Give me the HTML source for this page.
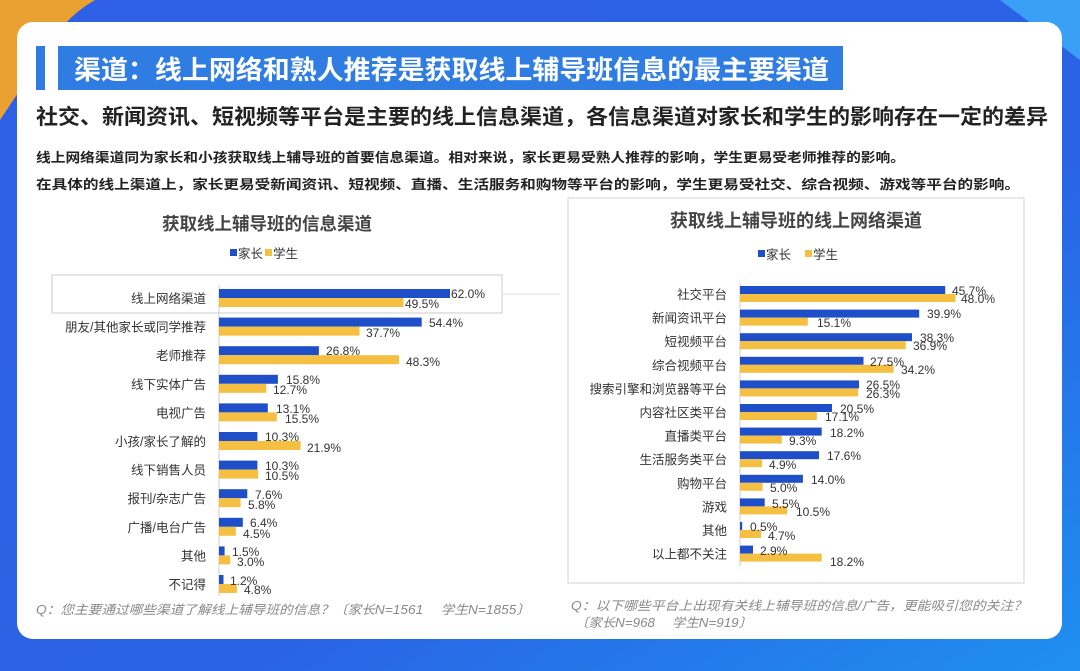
<!DOCTYPE html>
<html><head><meta charset="utf-8"><style>
html,body{margin:0;padding:0;width:1080px;height:671px;overflow:hidden;background:#2a5ee0}
svg{display:block}
text{font-family:"Liberation Sans","Noto Sans CJK SC",sans-serif}
.c{font-size:12.5px;fill:#333}
.v{font-size:12px;fill:#333}
</style></head><body>
<svg width="1080" height="671" viewBox="0 0 1080 671" xmlns="http://www.w3.org/2000/svg">
<defs>
<linearGradient id="bg" x1="0" y1="0" x2="1" y2="1">
<stop offset="0" stop-color="#2f5fe6"/><stop offset="0.6" stop-color="#2a62e4"/><stop offset="1" stop-color="#1f8ff0"/>
</linearGradient>
</defs>
<rect width="1080" height="671" fill="url(#bg)"/>
<path d="M0 0 L95 0 Q60 20 40 60 L0 120 Z" fill="#e9a232"/>
<path d="M1000 0 L1080 0 L1080 60 Z" fill="#3aa0f5"/>
<rect x="17" y="22" width="1045" height="617" rx="16" fill="#fff"/>
<rect x="36" y="46" width="9" height="44" fill="#2f7de3"/>
<rect x="58" y="46" width="785" height="44" fill="#2f7de3"/>
<text x="74" y="79" font-size="26" font-weight="bold" fill="#fff" textLength="755" lengthAdjust="spacingAndGlyphs">渠道：线上网络和熟人推荐是获取线上辅导班信息的最主要渠道</text>
<text x="36" y="124" font-size="21" font-weight="bold" fill="#222" textLength="1012" lengthAdjust="spacingAndGlyphs">社交、新闻资讯、短视频等平台是主要的线上信息渠道，各信息渠道对家长和学生的影响存在一定的差异</text>
<text x="36" y="162" font-size="13" font-weight="bold" fill="#222" textLength="869" lengthAdjust="spacingAndGlyphs">线上网络渠道同为家长和小孩获取线上辅导班的首要信息渠道。相对来说，家长更易受熟人推荐的影响，学生更易受老师推荐的影响。</text>
<text x="36" y="189" font-size="13" font-weight="bold" fill="#222" textLength="984" lengthAdjust="spacingAndGlyphs">在具体的线上渠道上，家长更易受新闻资讯、短视频、直播、生活服务和购物等平台的影响，学生更易受社交、综合视频、游戏等平台的影响。</text>

<!-- Left chart -->
<text x="267" y="230" font-size="17.5" font-weight="bold" fill="#444" text-anchor="middle">获取线上辅导班的信息渠道</text>
<rect x="230" y="249" width="7" height="7" fill="#1f4fc8"/><text x="238" y="258" font-size="12.5" fill="#333">家长</text>
<rect x="265" y="249" width="7" height="7" fill="#f5bf42"/><text x="273" y="258" font-size="12.5" fill="#333">学生</text>
<rect x="52" y="275" width="450" height="38" fill="none" stroke="#d0d4da" stroke-width="1.2"/>
<line x1="502" y1="294" x2="560" y2="294" stroke="#ddd"/>
<line x1="219" y1="285" x2="219" y2="596" stroke="#ccc"/>
<g>
<rect x="219" y="289" width="231" height="9" fill="#1f4fc8"/><rect x="219" y="298" width="184.4" height="9" fill="#f5bf42"/>
<text class="c" x="206" y="303" text-anchor="end">线上网络渠道</text><text class="v" x="451" y="298">62.0%</text><text class="v" x="405" y="308">49.5%</text>
<rect x="219" y="317.6" width="202.7" height="9" fill="#1f4fc8"/><rect x="219" y="326.6" width="140.5" height="9" fill="#f5bf42"/>
<text class="c" x="206" y="331.6" text-anchor="end">朋友/其他家长或同学推荐</text><text class="v" x="429" y="327">54.4%</text><text class="v" x="366" y="337">37.7%</text>
<rect x="219" y="346.2" width="99.9" height="9" fill="#1f4fc8"/><rect x="219" y="355.2" width="180" height="9" fill="#f5bf42"/>
<text class="c" x="206" y="360.2" text-anchor="end">老师推荐</text><text class="v" x="326" y="355">26.8%</text><text class="v" x="406" y="366">48.3%</text>
<rect x="219" y="374.8" width="58.9" height="9" fill="#1f4fc8"/><rect x="219" y="383.8" width="47.3" height="9" fill="#f5bf42"/>
<text class="c" x="206" y="388.8" text-anchor="end">线下实体广告</text><text class="v" x="286" y="384">15.8%</text><text class="v" x="273" y="394">12.7%</text>
<rect x="219" y="403.4" width="48.8" height="9" fill="#1f4fc8"/><rect x="219" y="412.4" width="57.8" height="9" fill="#f5bf42"/>
<text class="c" x="206" y="417.4" text-anchor="end">电视广告</text><text class="v" x="276" y="413">13.1%</text><text class="v" x="285" y="423">15.5%</text>
<rect x="219" y="432" width="38.4" height="9" fill="#1f4fc8"/><rect x="219" y="441" width="81.6" height="9" fill="#f5bf42"/>
<text class="c" x="206" y="446" text-anchor="end">小孩/家长了解的</text><text class="v" x="265" y="441">10.3%</text><text class="v" x="307" y="452">21.9%</text>
<rect x="219" y="460.6" width="38.4" height="9" fill="#1f4fc8"/><rect x="219" y="469.6" width="39.1" height="9" fill="#f5bf42"/>
<text class="c" x="206" y="474.6" text-anchor="end">线下销售人员</text><text class="v" x="265" y="470">10.3%</text><text class="v" x="265" y="480">10.5%</text>
<rect x="219" y="489.2" width="28.3" height="9" fill="#1f4fc8"/><rect x="219" y="498.2" width="21.6" height="9" fill="#f5bf42"/>
<text class="c" x="206" y="503.2" text-anchor="end">报刊/杂志广告</text><text class="v" x="255" y="499">7.6%</text><text class="v" x="248" y="509">5.8%</text>
<rect x="219" y="517.8" width="23.8" height="9" fill="#1f4fc8"/><rect x="219" y="526.8" width="16.8" height="9" fill="#f5bf42"/>
<text class="c" x="206" y="531.8" text-anchor="end">广播/电台广告</text><text class="v" x="250" y="527">6.4%</text><text class="v" x="243" y="538">4.5%</text>
<rect x="219" y="546.4" width="5.6" height="9" fill="#1f4fc8"/><rect x="219" y="555.4" width="11.2" height="9" fill="#f5bf42"/>
<text class="c" x="206" y="560.4" text-anchor="end">其他</text><text class="v" x="232" y="556">1.5%</text><text class="v" x="237" y="566">3.0%</text>
<rect x="219" y="575" width="4.5" height="9" fill="#1f4fc8"/><rect x="219" y="584" width="17.9" height="9" fill="#f5bf42"/>
<text class="c" x="206" y="589" text-anchor="end">不记得</text><text class="v" x="230" y="585">1.2%</text><text class="v" x="244" y="594">4.8%</text>
</g>
<text x="36" y="614" font-size="12.5" fill="#888" font-style="italic" textLength="494" lengthAdjust="spacingAndGlyphs">Q：您主要通过哪些渠道了解线上辅导班的信息？〔家长N=1561　 学生N=1855〕</text>

<!-- Right chart -->
<rect x="568" y="198" width="456" height="385" fill="none" stroke="#d6d9de" stroke-width="1.2"/>
<text x="796" y="227" font-size="18" font-weight="bold" fill="#444" text-anchor="middle">获取线上辅导班的线上网络渠道</text>
<rect x="758" y="250" width="7" height="7" fill="#1f4fc8"/><text x="766" y="259" font-size="12.5" fill="#333">家长</text>
<rect x="805" y="250" width="7" height="7" fill="#f5bf42"/><text x="813" y="259" font-size="12.5" fill="#333">学生</text>
<line x1="740" y1="283" x2="740" y2="566" stroke="#ccc"/>
<g>
<rect x="740" y="286" width="205.2" height="8" fill="#1f4fc8"/><rect x="740" y="294" width="215.5" height="8" fill="#f5bf42"/>
<text class="c" x="727" y="299" text-anchor="end">社交平台</text><text class="v" x="952" y="295">45.7%</text><text class="v" x="961" y="303">48.0%</text>
<rect x="740" y="309.6" width="179.2" height="8" fill="#1f4fc8"/><rect x="740" y="317.6" width="67.8" height="8" fill="#f5bf42"/>
<text class="c" x="727" y="322.6" text-anchor="end">新闻资讯平台</text><text class="v" x="927" y="318">39.9%</text><text class="v" x="817" y="327">15.1%</text>
<rect x="740" y="333.2" width="172" height="8" fill="#1f4fc8"/><rect x="740" y="341.2" width="165.7" height="8" fill="#f5bf42"/>
<text class="c" x="727" y="346.2" text-anchor="end">短视频平台</text><text class="v" x="920" y="342">38.3%</text><text class="v" x="913" y="350">36.9%</text>
<rect x="740" y="356.8" width="123.5" height="8" fill="#1f4fc8"/><rect x="740" y="364.8" width="153.6" height="8" fill="#f5bf42"/>
<text class="c" x="727" y="369.8" text-anchor="end">综合视频平台</text><text class="v" x="870" y="366">27.5%</text><text class="v" x="901" y="374">34.2%</text>
<rect x="740" y="380.4" width="119" height="8" fill="#1f4fc8"/><rect x="740" y="388.4" width="118.1" height="8" fill="#f5bf42"/>
<text class="c" x="727" y="393.4" text-anchor="end">搜索引擎和浏览器等平台</text><text class="v" x="866" y="389">26.5%</text><text class="v" x="866" y="398">26.3%</text>
<rect x="740" y="404" width="92" height="8" fill="#1f4fc8"/><rect x="740" y="412" width="76.8" height="8" fill="#f5bf42"/>
<text class="c" x="727" y="417" text-anchor="end">内容社区类平台</text><text class="v" x="840" y="413">20.5%</text><text class="v" x="825" y="421">17.1%</text>
<rect x="740" y="427.6" width="81.7" height="8" fill="#1f4fc8"/><rect x="740" y="435.6" width="41.8" height="8" fill="#f5bf42"/>
<text class="c" x="727" y="440.6" text-anchor="end">直播类平台</text><text class="v" x="830" y="437">18.2%</text><text class="v" x="789" y="445">9.3%</text>
<rect x="740" y="451.2" width="79" height="8" fill="#1f4fc8"/><rect x="740" y="459.2" width="22" height="8" fill="#f5bf42"/>
<text class="c" x="727" y="464.2" text-anchor="end">生活服务类平台</text><text class="v" x="827" y="460">17.6%</text><text class="v" x="769" y="469">4.9%</text>
<rect x="740" y="474.8" width="62.9" height="8" fill="#1f4fc8"/><rect x="740" y="482.8" width="22.5" height="8" fill="#f5bf42"/>
<text class="c" x="727" y="487.8" text-anchor="end">购物平台</text><text class="v" x="811" y="484">14.0%</text><text class="v" x="770" y="492">5.0%</text>
<rect x="740" y="498.4" width="24.7" height="8" fill="#1f4fc8"/><rect x="740" y="506.4" width="47.1" height="8" fill="#f5bf42"/>
<text class="c" x="727" y="511.4" text-anchor="end">游戏</text><text class="v" x="772" y="508">5.5%</text><text class="v" x="796" y="516">10.5%</text>
<rect x="740" y="522" width="2.2" height="8" fill="#1f4fc8"/><rect x="740" y="530" width="21.1" height="8" fill="#f5bf42"/>
<text class="c" x="727" y="535" text-anchor="end">其他</text><text class="v" x="750" y="531">0.5%</text><text class="v" x="768" y="540">4.7%</text>
<rect x="740" y="545.6" width="13" height="8" fill="#1f4fc8"/><rect x="740" y="553.6" width="81.7" height="8" fill="#f5bf42"/>
<text class="c" x="727" y="558.6" text-anchor="end">以上都不关注</text><text class="v" x="760" y="555">2.9%</text><text class="v" x="830" y="566">18.2%</text>
</g>
<text x="571" y="610" font-size="12.5" fill="#888" font-style="italic" textLength="456" lengthAdjust="spacingAndGlyphs">Q：以下哪些平台上出现有关线上辅导班的信息/广告，更能吸引您的关注？</text>
<text x="575" y="627" font-size="12.5" fill="#888" font-style="italic" textLength="177" lengthAdjust="spacingAndGlyphs">〔家长N=968　 学生N=919〕</text>
</svg>
</body></html>
